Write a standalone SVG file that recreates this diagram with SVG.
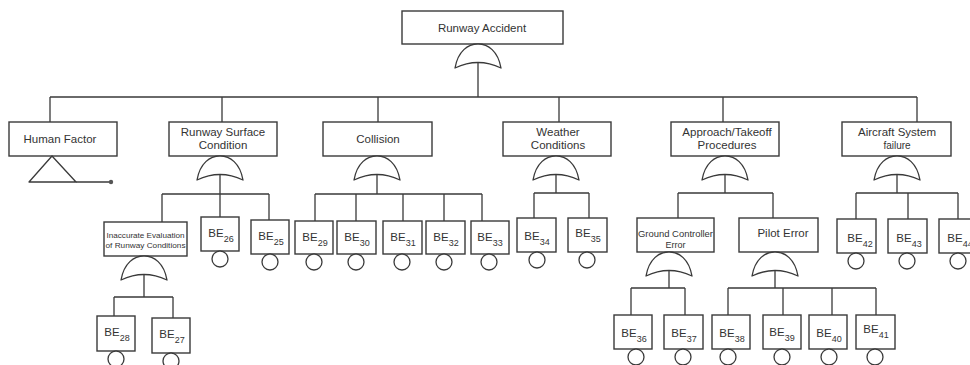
<svg xmlns="http://www.w3.org/2000/svg" xmlns:xlink="http://www.w3.org/1999/xlink" width="970" height="365" viewBox="0 0 970 365">
<style>
.b{fill:#fff;stroke:#3a3a3a;stroke-width:1.4}
.g{fill:#fff;stroke:#3a3a3a;stroke-width:1.3;stroke-linejoin:round}
.c{fill:#fff;stroke:#3a3a3a;stroke-width:1.3}
.l{fill:none;stroke:#3a3a3a;stroke-width:1.3}
text{font-family:"Liberation Sans",Arial,sans-serif;fill:#333;text-anchor:middle}
.t{font-size:11.5px}
.s{font-size:9px}
.sm{font-size:8px}
</style>
<defs>
<path id="or" d="M-23,24 C-20,7 -10,0 0,0 C10,0 20,7 23,24 Q0,13 -23,24 Z"/>
</defs>
<g id="connectors" class="l">
<path d="M478,62V97M50,97H917M50,97V122M222,97V122M378,97V122M559,97V122M723,97V122M917,97V122"/>
<path d="M76,182H111"/>
<path d="M220,174V194M162,194H269M162,194V222M220,194V217M269,194V220"/>
<path d="M144,274V297M114,297H173M114,297V316M173,297V318"/>
<path d="M377,174V194M315,194H482M315,194V221M356,194V221M403,194V221M444,194V221M482,194V221"/>
<path d="M556,174V193M534,193H589M534,193V218M589,193V218"/>
<path d="M725,174V193M678,193H773M678,193V218M773,193V218"/>
<path d="M669,270V288M631,288H685M631,288V315M685,288V315"/>
<path d="M775,270V288M728,288H876M728,288V315M783,288V315M832,288V315M876,288V315"/>
<path d="M897,174V193M856,193H958M856,193V219M908,193V219M958,193V219"/>
</g>
<g id="runway-accident">
<rect class="b" x="402" y="11" width="161" height="33"/>
<text class="t" x="482" y="32">Runway Accident</text>
<use href="#or" class="g" x="478" y="44"/>
</g>
<g id="human-factor">
<rect class="b" x="9" y="122" width="108" height="34"/>
<text class="t" x="60" y="143">Human Factor</text>
<path class="g" d="M52,156L29,182H76Z"/>
<circle cx="111" cy="182" r="2.2" fill="#555"/>
</g>
<g id="runway-surface">
<rect class="b" x="169" y="122" width="108" height="34"/>
<text class="t" x="223" y="136">Runway Surface</text>
<text class="t" x="223" y="149">Condition</text>
<use href="#or" class="g" x="220" y="156"/>
</g>
<g id="collision">
<rect class="b" x="323" y="122" width="109" height="34"/>
<text class="t" x="378" y="143">Collision</text>
<use href="#or" class="g" x="377" y="156"/>
</g>
<g id="weather">
<rect class="b" x="503" y="122" width="108" height="34"/>
<text class="t" x="558" y="136">Weather</text>
<text class="t" x="558" y="149">Conditions</text>
<use href="#or" class="g" x="556" y="156"/>
</g>
<g id="approach">
<rect class="b" x="671" y="122" width="108" height="34"/>
<text class="t" x="727" y="136">Approach/Takeoff</text>
<text class="t" x="727" y="149">Procedures</text>
<use href="#or" class="g" x="725" y="156"/>
</g>
<g id="aircraft">
<rect class="b" x="842" y="122" width="109" height="34"/>
<text class="t" x="897" y="136">Aircraft System</text>
<text x="897" y="149" style="font-size:10px">failure</text>
<use href="#or" class="g" x="897" y="156"/>
</g>
<g id="inaccurate">
<rect class="b" x="104" y="222" width="83" height="34"/>
<text class="sm" x="145.5" y="238" textLength="78" lengthAdjust="spacingAndGlyphs">Inaccurate Evaluation</text>
<text class="sm" x="145.5" y="248" textLength="80" lengthAdjust="spacingAndGlyphs">of Runway Conditions</text>
<use href="#or" class="g" x="144" y="256"/>
</g>
<g id="ground-controller">
<rect class="b" x="637" y="218" width="77" height="34"/>
<text x="675.5" y="237" style="font-size:9px" textLength="75" lengthAdjust="spacingAndGlyphs">Ground Controller</text>
<text x="675.5" y="248" style="font-size:9px">Error</text>
<use href="#or" class="g" x="669" y="252"/>
</g>
<g id="pilot-error">
<rect class="b" x="739" y="218" width="79" height="34"/>
<text class="t" x="783" y="237">Pilot Error</text>
<use href="#or" class="g" x="775" y="252"/>
</g>
<g id="be28"><rect class="b" x="97" y="316" width="38" height="35"/><circle class="c" cx="116" cy="359" r="8"/><text class="t" x="117" y="336">BE<tspan class="s" dy="5">28</tspan></text></g>
<g id="be27"><rect class="b" x="152" y="318" width="38" height="35"/><circle class="c" cx="171" cy="361" r="8"/><text class="t" x="172" y="338">BE<tspan class="s" dy="5">27</tspan></text></g>
<g id="be26"><rect class="b" x="201" y="217" width="38" height="34"/><circle class="c" cx="220" cy="259" r="8"/><text class="t" x="221" y="237">BE<tspan class="s" dy="5">26</tspan></text></g>
<g id="be25"><rect class="b" x="251" y="220" width="38" height="34"/><circle class="c" cx="270" cy="262" r="8"/><text class="t" x="271" y="240">BE<tspan class="s" dy="5">25</tspan></text></g>
<g id="be29"><rect class="b" x="295" y="221" width="38" height="33"/><circle class="c" cx="314" cy="262" r="8"/><text class="t" x="315" y="241">BE<tspan class="s" dy="5">29</tspan></text></g>
<g id="be30"><rect class="b" x="337" y="221" width="39" height="33"/><circle class="c" cx="356" cy="262" r="8"/><text class="t" x="357" y="241">BE<tspan class="s" dy="5">30</tspan></text></g>
<g id="be31"><rect class="b" x="383" y="221" width="39" height="33"/><circle class="c" cx="402" cy="262" r="8"/><text class="t" x="403" y="241">BE<tspan class="s" dy="5">31</tspan></text></g>
<g id="be32"><rect class="b" x="426" y="221" width="39" height="33"/><circle class="c" cx="444" cy="262" r="8"/><text class="t" x="446" y="241">BE<tspan class="s" dy="5">32</tspan></text></g>
<g id="be33"><rect class="b" x="471" y="221" width="38" height="33"/><circle class="c" cx="489" cy="262" r="8"/><text class="t" x="490" y="241">BE<tspan class="s" dy="5">33</tspan></text></g>
<g id="be34"><rect class="b" x="517" y="218" width="39" height="34"/><circle class="c" cx="537" cy="260" r="8"/><text class="t" x="537" y="240">BE<tspan class="s" dy="5">34</tspan></text></g>
<g id="be35"><rect class="b" x="568" y="218" width="39" height="34"/><circle class="c" cx="587" cy="260" r="8"/><text class="t" x="588" y="237">BE<tspan class="s" dy="5">35</tspan></text></g>
<g id="be36"><rect class="b" x="614" y="315" width="38" height="34"/><circle class="c" cx="636" cy="357" r="8"/><text class="t" x="634" y="337">BE<tspan class="s" dy="5">36</tspan></text></g>
<g id="be37"><rect class="b" x="664" y="315" width="39" height="34"/><circle class="c" cx="683" cy="357" r="8"/><text class="t" x="684" y="337">BE<tspan class="s" dy="5">37</tspan></text></g>
<g id="be38"><rect class="b" x="712" y="315" width="38" height="34"/><circle class="c" cx="728" cy="357" r="8"/><text class="t" x="732" y="337">BE<tspan class="s" dy="5">38</tspan></text></g>
<g id="be39"><rect class="b" x="763" y="315" width="38" height="34"/><circle class="c" cx="782" cy="357" r="8"/><text class="t" x="782" y="336">BE<tspan class="s" dy="5">39</tspan></text></g>
<g id="be40"><rect class="b" x="809" y="315" width="38" height="34"/><circle class="c" cx="829" cy="357" r="8"/><text class="t" x="829" y="337">BE<tspan class="s" dy="5">40</tspan></text></g>
<g id="be41"><rect class="b" x="856" y="315" width="39" height="34"/><circle class="c" cx="875" cy="357" r="8"/><text class="t" x="876" y="333">BE<tspan class="s" dy="5">41</tspan></text></g>
<g id="be42"><rect class="b" x="837" y="219" width="39" height="34"/><circle class="c" cx="856" cy="261" r="8"/><text class="t" x="860" y="242">BE<tspan class="s" dy="5">42</tspan></text></g>
<g id="be43"><rect class="b" x="888" y="219" width="39" height="34"/><circle class="c" cx="907" cy="261" r="8"/><text class="t" x="909" y="242">BE<tspan class="s" dy="5">43</tspan></text></g>
<g id="be44"><rect class="b" x="939" y="219" width="39" height="34"/><circle class="c" cx="958" cy="261" r="8"/><text class="t" x="960" y="242">BE<tspan class="s" dy="5">44</tspan></text></g>
</svg>
